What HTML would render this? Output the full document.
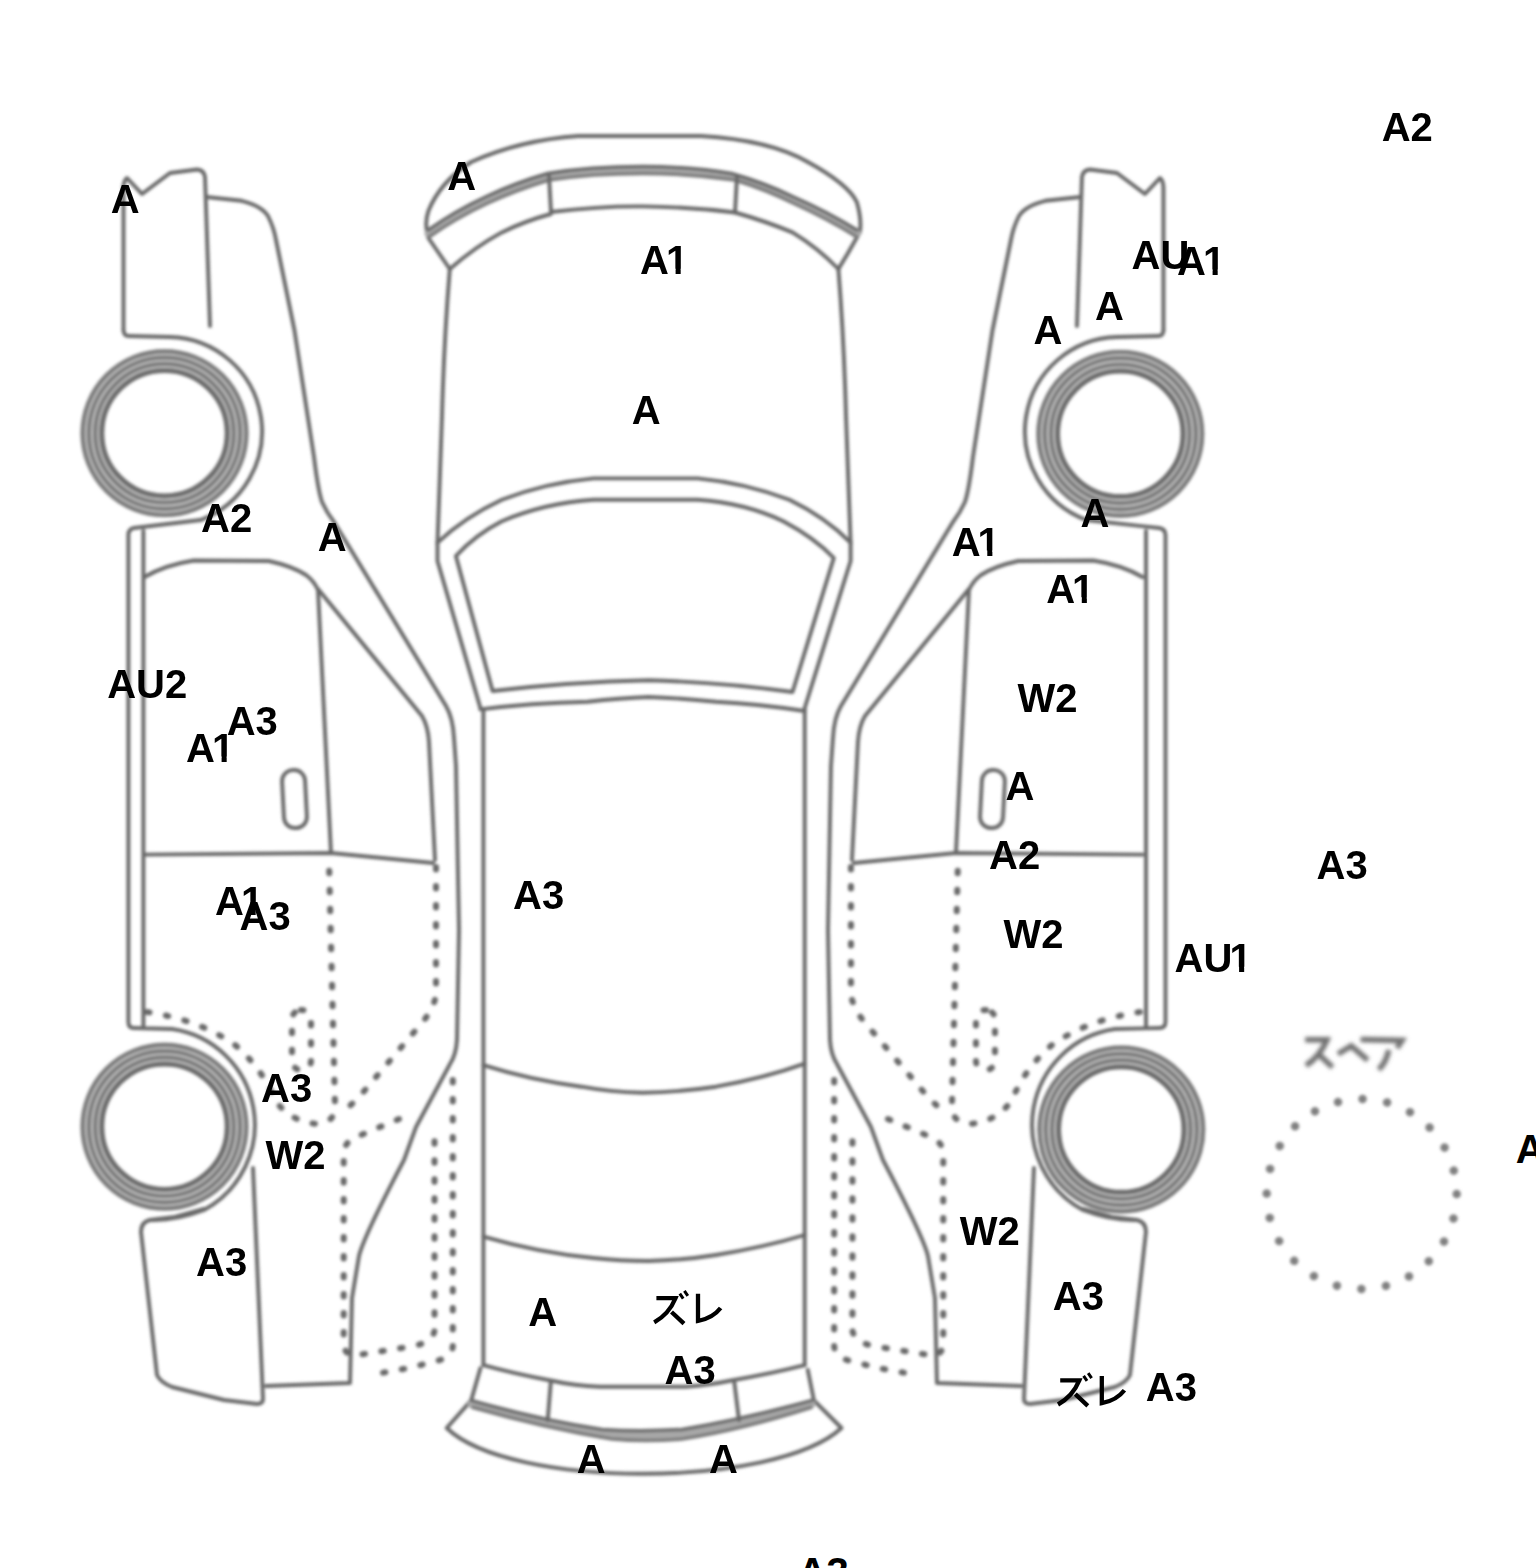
<!DOCTYPE html>
<html><head><meta charset="utf-8">
<style>
html,body{margin:0;padding:0;background:#fff;width:1536px;height:1568px;overflow:hidden}
svg{position:absolute;left:0;top:0}
.l{position:absolute;font-family:"Liberation Sans",sans-serif;font-weight:bold;font-size:40px;line-height:40px;color:#000;white-space:nowrap}
.o{display:inline-block;margin-left:-3px;clip-path:polygon(0 0,100% 0,100% 28.5px,14.8px 28.5px,14.8px 100%,9.7px 100%,9.7px 28.5px,0 28.5px)}
</style></head><body>
<svg width="1536" height="1568" viewBox="0 0 1536 1568">
<defs>
<g id="side" fill="none" stroke="#686868" stroke-width="3.9" stroke-linejoin="round" stroke-linecap="round">
  <!-- front mirror/headlamp block -->
  <path d="M210,326 L205,177 Q204,170 197,169.5 L170,173 L142,194 L127,178 Q123.5,181 123.5,188 L123.5,330"/>
  <!-- body outline front to rear -->
  <path d="M206.5,197 L241.6,200.8 Q262,206 268,216 Q274,228 276,240 L294.4,330 L314,457 Q318,490 322,502 Q327,513 334,522 L446,706 Q453,718 454,738 L456,766 L459,930 L457,1040 Q456,1055 450,1064 L416,1127 L404,1160 Q364,1236 359,1256 L352,1298 L350,1383 L266,1386"/>
  <!-- front door -->
  <path d="M144.5,577 Q165,565 193.7,560.5 L268.7,561 Q292,566 306,575 Q314,581 318,590 L331,853"/>
  <path d="M318,589 L422,716 Q428,726 429,742 L435,860"/>
  <path d="M144.5,854.6 L331,853 L433,863"/>
  <rect x="283" y="770" width="23" height="58" rx="11" transform="rotate(-3 295 799)"/>
  <!-- rear bumper -->
  <path d="M253,1168 L263,1399 Q263,1404 257,1404 L224,1400 L172,1387 Q160,1382 157,1375 L141,1232 Q141,1222 150,1220 L175,1217 L204,1209"/>
  <!-- wheel arches -->
  <path d="M123.5,330 Q123.5,336 129,336 L170,337 A94.5 94.5 0 0 1 200.6,520"/>
  <path d="M172,1029 A96.8 96.8 0 0 1 204,1210 Q175,1221 150,1220"/>
  <!-- dotted lines -->
  <g stroke-dasharray="2.5 16.5" stroke-width="6">
    <path d="M147,1012 Q200,1020 235,1045 Q262,1068 275,1100 Q290,1122 318,1124 Q336,1122 335,1105 L329,862"/>
    <path d="M436,867 L436,996 Q432,1012 420,1025 L365,1090 Q350,1108 338,1114"/>
    <path d="M399,1119 L361,1135 Q345,1140 343.7,1152 L343.7,1345 Q344,1352 352,1356 L414,1346 Q432,1342 434.5,1331 L434.5,1135"/>
    <path d="M452.8,1080 L452.8,1347 Q451,1356 440,1360 L409,1368 L369.7,1375"/>
    <rect x="292" y="1010" width="19" height="60" rx="9"/>
  </g>
</g>
<g id="wheel" fill="none">
  <circle r="72.3" stroke="#c0c0c0" stroke-width="24"/>
  <circle r="62.8" stroke="#6c6c6c" stroke-width="5"/>
  <circle r="69.3" stroke="#7a7a7a" stroke-width="4.2"/>
  <circle r="75.6" stroke="#7a7a7a" stroke-width="4.2"/>
  <circle r="81.8" stroke="#7a7a7a" stroke-width="4.2"/>
</g>
<filter id="soft" filterUnits="userSpaceOnUse" x="0" y="0" width="1536" height="1568"><feGaussianBlur stdDeviation="1.5"/></filter>
<filter id="soft2" filterUnits="userSpaceOnUse" x="1200" y="1000" width="300" height="120"><feGaussianBlur stdDeviation="1.6"/></filter>
</defs>
<g filter="url(#soft)">
<use href="#side"/>
<g transform="translate(1287,0) scale(-1,1)"><use href="#side"/></g>
<g fill="none" stroke="#686868" stroke-width="3.9" stroke-linejoin="round" stroke-linecap="round">
<path d="M200.6,520 L134,528 Q128.4,529 128.4,535 L128.4,1022 Q128.4,1028 134,1028 L172,1029 M143.4,1028 L143.4,531"/>
<path d="M1086.4,520 L1159,528 Q1165.5,529 1165.5,535 L1165.5,1022 Q1165.5,1028 1159,1028 L1115,1029 M1146,1028 L1146,531"/>
</g>
<use href="#wheel" x="164.5" y="433.2"/>
<use href="#wheel" x="164.5" y="1126.7"/>
<use href="#wheel" x="1120.3" y="433.8"/>
<use href="#wheel" x="1121.3" y="1129.5"/>

<!-- center top view -->
<g fill="none" stroke="#686868" stroke-width="3.9" stroke-linejoin="round" stroke-linecap="round">
  <path d="M449.8,269 L428.4,238 Q424,224 428.4,211 Q440,182 471.2,162 Q520,140 578.3,136 L700.7,136 Q770,140 807.8,162 Q848,184 856.8,202 Q862,220 859.8,232.4 L847.6,253.8 L838.4,269"/>
  <path d="M428.6,233.5 Q455.5,214.5 486.8,200 Q515.5,186.5 548.3,176.7 Q591,170 642.6,170 Q690,170 733,176.7 Q766,186.5 793.2,200 Q828,215.5 856.9,233.5" stroke-width="8" stroke="#a8a8a8"/>
  <path d="M428.4,230 Q455,211 486.5,196.5 Q515,183 547.7,173.5 Q590,166.5 642.6,166.5 Q690,166.5 731.3,173.5 Q765,183 792.5,196.5 Q828,212 856.8,230" stroke-width="3.5" stroke="#686868"/>
  <path d="M429,237 Q456,218 487,203.5 Q516,190 549,180 Q592,173.5 642.6,173.5 Q690,173.5 735,180 Q767,190 794,203.5 Q828,219 857,237" stroke-width="3.5" stroke="#7a7a7a"/>
  <path d="M549,176 L551,212 Q600,206 642.6,206.4 Q690,207 735,212.5 L737,176"/>
  <path d="M449.8,269 Q475,247 501.8,232.4 Q525,221 550.8,214 M735,212.5 Q765,221 792.5,232.4 Q818,248 838.4,269"/>
  <path d="M449.8,269 Q444,340 442,416 L437.5,542.6 L437.5,561 L480.4,708"/>
  <path d="M838.4,269 Q844,340 846,416 L850.6,542.6 L850.6,561 L804.7,708"/>
  <path d="M437.5,542.6 Q465,517 501.8,499.8 Q545,483 593.6,478.4 L697.6,478.4 Q745,483 789.4,499.8 Q825,517 850.6,542.6"/>
  <path d="M480.4,709.4 Q530,703 587.5,701.7 Q620,698 648.7,697 Q680,698 716,701.7 Q760,704 804.7,711"/>
  <path d="M455.9,556 Q475,535 501.8,521.2 Q545,503 593.6,499.8 L697.6,499.8 Q745,503 783.3,521.2 Q815,538 833.8,558 L792.5,692 Q720,682 648.7,680.3 Q570,682 492.6,691 Z"/>
  <path d="M483.4,709 L483.4,1365.2 M804.7,709 L804.7,1365.2"/>
  <path d="M483.4,1065.2 Q530,1080 581.4,1086.7 Q610,1092 642.6,1092.8 Q680,1092 716,1086.7 Q765,1078 804.7,1063.7"/>
  <path d="M483.4,1236.6 Q540,1253 593.6,1258 Q620,1261 648.7,1261 Q685,1260 716,1255 Q765,1247 804.7,1235"/>
  <path d="M483.4,1365.2 Q515,1374 550.8,1380.5 Q575,1386 599.7,1386.7 L685.4,1386.7 Q710,1385 731.3,1380.5 Q770,1374 804.7,1365.2"/>
  <path d="M480.4,1368.3 L471.2,1400.4 L446.7,1428 C510,1489 775,1489 841.5,1428 L813.9,1400.4 L807.8,1369.8"/>
  <path d="M472,1404 Q545,1424 603,1434.5 Q640,1437 682,1434.5 Q740,1424 811,1404" stroke-width="9" stroke="#a8a8a8"/>
  <path d="M471.2,1400.4 Q540,1420 602,1429.5 Q640,1432 682,1429.5 Q740,1420 812,1400.4" stroke-width="3.5" stroke="#6a6a6a"/>
  <path d="M473,1407.5 Q545,1428 612,1439 Q645,1442 682,1439 Q740,1430 811,1407.5" stroke-width="3.5" stroke="#7a7a7a"/>
  <path d="M550.8,1382 L547.7,1420.3 M734.3,1382 L739,1420.3"/>
</g>

<!-- spare -->
<circle cx="1361.7" cy="1194" r="95" fill="none" stroke="#808080" stroke-width="8.5" stroke-linecap="round" stroke-dasharray="0.01 24.87"/>
<g fill="none" stroke="#707070" stroke-width="5.5" stroke-linecap="butt" filter="url(#soft2)">
  <path d="M1305.2,1039.8 L1327,1039.8 Q1320,1056 1306,1065.6 M1318.4,1054 L1332.5,1067.2"/>
  <path d="M1338,1054 L1351.25,1046 L1367.7,1060.2"/>
  <path d="M1360.6,1039.5 L1402,1040.5 L1397,1048 M1388.75,1050 Q1386,1063 1378.6,1069.5"/>
</g>
</g>
<!-- zure glyphs -->
<g id="zure" fill="none" stroke="#000" stroke-width="4.3" stroke-linecap="butt" stroke-linejoin="miter">
  <path d="M656.4,1298.2 H675.5 Q669,1314 654.2,1322.3"/>
  <path d="M671.5,1312 L684,1323.6"/>
  <path d="M679.8,1293.6 L683.2,1298.6 M684.4,1290.9 L687.8,1295.9" stroke-width="3"/>
  <path d="M698,1293.7 V1321 Q713,1318 720.6,1308"/>
</g>
<use href="#zure" x="403.8" y="82.2"/>
</svg>

<div class="l" style="left:110.8px;top:179.0px">A</div>
<div class="l" style="left:447.2px;top:156.0px">A</div>
<div class="l" style="left:640.0px;top:240.2px">A<span class="o">1</span></div>
<div class="l" style="left:631.8px;top:390.0px">A</div>
<div class="l" style="left:201.0px;top:498.0px">A2</div>
<div class="l" style="left:317.8px;top:517.0px">A</div>
<div class="l" style="left:107.2px;top:663.5px">AU2</div>
<div class="l" style="left:226.7px;top:701.0px">A3</div>
<div class="l" style="left:186.0px;top:728.0px">A<span class="o">1</span></div>
<div class="l" style="left:513.0px;top:874.7px">A3</div>
<div class="l" style="left:215.0px;top:880.5px">A<span class="o">1</span></div>
<div class="l" style="left:239.5px;top:895.5px">A3</div>
<div class="l" style="left:261.0px;top:1067.8px">A3</div>
<div class="l" style="left:265.4px;top:1134.8px">W2</div>
<div class="l" style="left:196.0px;top:1241.8px">A3</div>
<div class="l" style="left:528.3px;top:1292.0px">A</div>
<div class="l" style="left:664.5px;top:1350.0px">A3</div>
<div class="l" style="left:576.7px;top:1438.8px">A</div>
<div class="l" style="left:708.9px;top:1438.8px">A</div>
<div class="l" style="left:797.7px;top:1552.3px">A3</div>
<div class="l" style="left:1381.7px;top:107.2px">A2</div>
<div class="l" style="left:1131.5px;top:234.6px">AU</div>
<div class="l" style="left:1177.0px;top:240.9px">A<span class="o">1</span></div>
<div class="l" style="left:1095.0px;top:285.7px">A</div>
<div class="l" style="left:1033.6px;top:309.6px">A</div>
<div class="l" style="left:1080.6px;top:492.7px">A</div>
<div class="l" style="left:951.7px;top:522.0px">A<span class="o">1</span></div>
<div class="l" style="left:1046.2px;top:568.8px">A<span class="o">1</span></div>
<div class="l" style="left:1017.4px;top:677.8px">W2</div>
<div class="l" style="left:1005.6px;top:765.7px">A</div>
<div class="l" style="left:989.0px;top:835.0px">A2</div>
<div class="l" style="left:1316.5px;top:844.5px">A3</div>
<div class="l" style="left:1003.6px;top:914.3px">W2</div>
<div class="l" style="left:1174.6px;top:938.2px">AU<span class="o">1</span></div>
<div class="l" style="left:959.8px;top:1211.4px">W2</div>
<div class="l" style="left:1052.8px;top:1275.7px">A3</div>
<div class="l" style="left:1145.8px;top:1367.3px">A3</div>
<div class="l" style="left:1515.8px;top:1129.0px">A</div>
</body></html>
